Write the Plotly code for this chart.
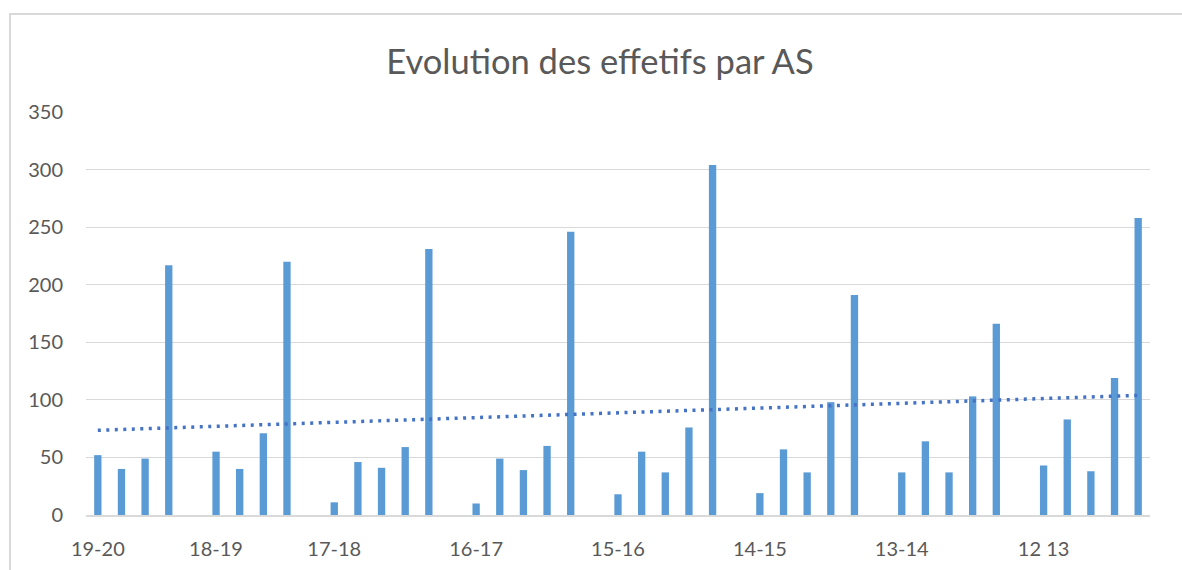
import numpy as np
import plotly.graph_objects as go

# Data: 45 category slots, None = empty slot separating school years
values = [52, 40, 49, 217, None,
          55, 40, 71, 220, None,
          11, 46, 41, 59, 231, None,
          10, 49, 39, 60, 246, None,
          18, 55, 37, 76, 304, None,
          19, 57, 37, 98, 191, None,
          37, 64, 37, 103, 166, None,
          43, 83, 38, 119, 258]
label_positions = [0, 5, 10, 16, 22, 28, 34, 40]
tick_labels = ["19-20", "18-19", "17-18", "16-17", "15-16", "14-15", "13-14", "12 13"]
y_ticks = [0, 50, 100, 150, 200, 250, 300, 350]

x = list(range(len(values)))

# linear trendline (blank slots excluded, like Excel)
xs = np.array([i for i, v in zip(x, values) if v is not None], dtype=float)
ys = np.array([v for v in values if v is not None], dtype=float)
slope, intercept = np.polyfit(xs, ys, 1)
trend_x = [0, len(values) - 1]
trend_y = [intercept + slope * t for t in trend_x]

font_family = "Lato, 'Open Sans', sans-serif"

fig = go.Figure()
fig.add_trace(go.Bar(
    x=x, y=values, marker=dict(color="#5B9BD5", line=dict(width=0)),
    showlegend=False, hoverinfo="x+y"
))
fig.add_trace(go.Scatter(
    x=trend_x, y=trend_y, mode="lines",
    line=dict(color="#4472C4", width=3.5, dash="3px,5.5px"),
    showlegend=False
))

fig.update_layout(
    width=1182, height=570,
    margin=dict(l=86, r=32, t=112, b=55, autoexpand=False),
    paper_bgcolor="white", plot_bgcolor="white",
    bargap=0.69,
    title=dict(text="Evolution des effetifs par AS",
               x=0.5076, xref="container", xanchor="center",
               y=0.891, yref="container", yanchor="middle",
               font=dict(family=font_family, size=34.5, color="#595959")),
    xaxis=dict(range=[-0.5, len(values) - 0.5], automargin=False,
               tickmode="array", tickvals=label_positions, ticktext=tick_labels,
               showgrid=False, zeroline=False,
               showline=True, linecolor="#D9D9D9", linewidth=2,
               ticks="", ticklabelstandoff=15,
               tickfont=dict(family=font_family, size=20, color="#595959")),
    yaxis=dict(range=[0, 350], tickmode="array", tickvals=y_ticks, automargin=False,
               showgrid=True, gridcolor="#D9D9D9", gridwidth=1,
               zeroline=False, showline=False, ticks="",
               ticklabelstandoff=22,
               tickfont=dict(family=font_family, size=20, color="#595959")),
    shapes=[dict(type="rect", xref="paper", yref="paper",
                 x0=-0.0714, x1=1.06, y0=-0.2, y1=1.243,
                 line=dict(color="#D9D9D9", width=2), fillcolor="rgba(0,0,0,0)",
                 layer="below")]
)

fig.write_html("out.html", config={"displayModeBar": False},
               post_script="document.body.style.margin='0';document.body.style.padding='0';")
